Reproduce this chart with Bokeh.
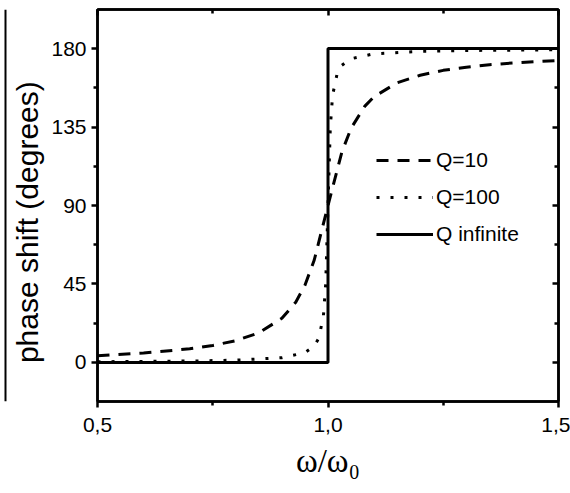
from bokeh.plotting import figure
from bokeh.models import Range1d, LinearAxis, FixedTicker, Legend, LegendItem, Span
from bokeh.layouts import row
from bokeh.embed import file_html
from bokeh.resources import INLINE

# ---- data ----
w_q10 = [0.50, 0.60, 0.70, 0.75, 0.80, 0.85, 0.90, 0.93, 0.95, 0.97, 1.00,
         1.03, 1.05, 1.08, 1.10, 1.15, 1.20, 1.25, 1.30, 1.35, 1.40, 1.45, 1.50]
phi_q10 = [3.8, 5.4, 7.8, 9.7, 12.5, 17.0, 25.3, 34.5, 44.3, 58.6, 90.0,
           120.6, 134.3, 147.0, 152.4, 160.4, 164.7, 167.5, 169.3, 170.7, 171.7, 172.5, 173.2]

w_q100 = [0.50, 0.70, 0.80, 0.90, 0.95, 0.97, 0.98, 0.99, 0.995, 1.00,
          1.005, 1.01, 1.02, 1.03, 1.05, 1.10, 1.20, 1.30, 1.50]
phi_q100 = [0.4, 0.8, 1.3, 2.7, 5.6, 9.3, 13.9, 26.4, 44.9, 90.0,
            134.9, 153.3, 165.8, 170.4, 174.2, 177.0, 178.4, 178.9, 179.3]

w_qinf = [0.5, 1.0, 1.0, 1.5]
phi_qinf = [0, 0, 180, 180]

labels = ["Q=10", "Q=100", "Q infinite"]
x_ticks = [0.5, 1.0, 1.5]
x_tick_labels = {0.5: "0,5", 1.0: "1,0", 1.5: "1,5"}
x_minor = [0.75, 1.25]
y_ticks = [0, 45, 90, 135, 180]
y_minor = [-22.5, 22.5, 67.5, 112.5, 157.5]

FONT = "Liberation Sans"

p = figure(width=562, height=493, output_backend="svg", toolbar_location=None,
           x_range=Range1d(0.5, 1.5), y_range=Range1d(-22.4, 202.4),
           min_border_left=88, min_border_right=12, min_border_top=9, min_border_bottom=92)
p.grid.visible = False
p.outline_line_color = "black"
p.outline_line_width = 2.5
p.background_fill_color = "white"
p.border_fill_color = "white"

r10 = p.line(w_q10, phi_q10, line_color="black", line_width=3, line_dash="12 9")
r100 = p.line(w_q100, phi_q100, line_color="black", line_width=3, line_dash="3 11")
rinf = p.line(w_qinf, phi_qinf, line_color="black", line_width=3)

# bottom axis
xa = p.xaxis[0]
xa.ticker = FixedTicker(ticks=x_ticks, minor_ticks=x_minor)
xa.major_label_overrides = x_tick_labels
xa.axis_label = "ω/ω₀"
xa.axis_label_text_font = "Liberation Serif"
xa.axis_label_text_font_style = "normal"
xa.axis_label_text_font_size = "33px"
xa.axis_label_text_color = "black"
xa.axis_label_standoff = 8

ya = p.yaxis[0]
ya.ticker = FixedTicker(ticks=y_ticks, minor_ticks=y_minor)
ya.axis_label = "phase shift (degrees)\u00a0\u00a0\u00a0\u00a0"
ya.axis_label_text_font = FONT
ya.axis_label_text_font_style = "normal"
ya.axis_label_text_font_size = "30px"
ya.axis_label_text_color = "black"
ya.axis_label_standoff = 4

for ax in (xa, ya):
    ax.axis_line_width = 2.5
    ax.major_tick_line_width = 2.5
    ax.minor_tick_line_width = 2.5
    ax.major_tick_out = 6
    ax.major_tick_in = 0
    ax.minor_tick_out = 4
    ax.minor_tick_in = 0
    ax.major_label_text_font = FONT
    ax.major_label_text_font_size = "21px"
    ax.major_label_text_color = "black"
xa.major_label_standoff = 10
ya.major_label_standoff = 5

# top and right axes with inward ticks, no labels
top = LinearAxis(ticker=FixedTicker(ticks=x_ticks, minor_ticks=x_minor))
right = LinearAxis(ticker=FixedTicker(ticks=y_ticks, minor_ticks=y_minor))
for ax in (top, right):
    ax.axis_line_width = 2.5
    ax.major_tick_line_width = 2.5
    ax.minor_tick_line_width = 2.5
    ax.major_tick_out = 0
    ax.major_tick_in = 6
    ax.minor_tick_out = 0
    ax.minor_tick_in = 4
    ax.major_label_text_font_size = "1px"
    ax.major_label_text_color = None
    ax.major_label_standoff = 0
p.add_layout(top, "above")
p.add_layout(right, "right")

legend = Legend(items=[LegendItem(label=labels[0], renderers=[r10]),
                       LegendItem(label=labels[1], renderers=[r100]),
                       LegendItem(label=labels[2], renderers=[rinf])],
                location=(279, 155))
legend.glyph_width = 57
legend.glyph_height = 22
legend.label_height = 22
legend.spacing = 13
legend.padding = 0
legend.margin = 0
legend.label_standoff = 3
legend.background_fill_alpha = 0
legend.border_line_color = None
legend.label_text_font = FONT
legend.label_text_font_size = "21px"
legend.label_text_color = "black"
p.add_layout(legend)

# cut-off edge of the neighbouring panel
stub = figure(width=8, height=493, output_backend="svg", toolbar_location=None,
              x_range=Range1d(0, 8), y_range=Range1d(0, 428),
              x_axis_location=None, y_axis_location=None,
              min_border_left=0, min_border_right=0, min_border_top=0, min_border_bottom=65)
stub.grid.visible = False
stub.outline_line_color = None
stub.add_layout(Span(location=5, dimension="height", line_color="black", line_width=2))

layout = row(stub, p, spacing=0)
open("out.html", "w").write(file_html(layout, INLINE))
